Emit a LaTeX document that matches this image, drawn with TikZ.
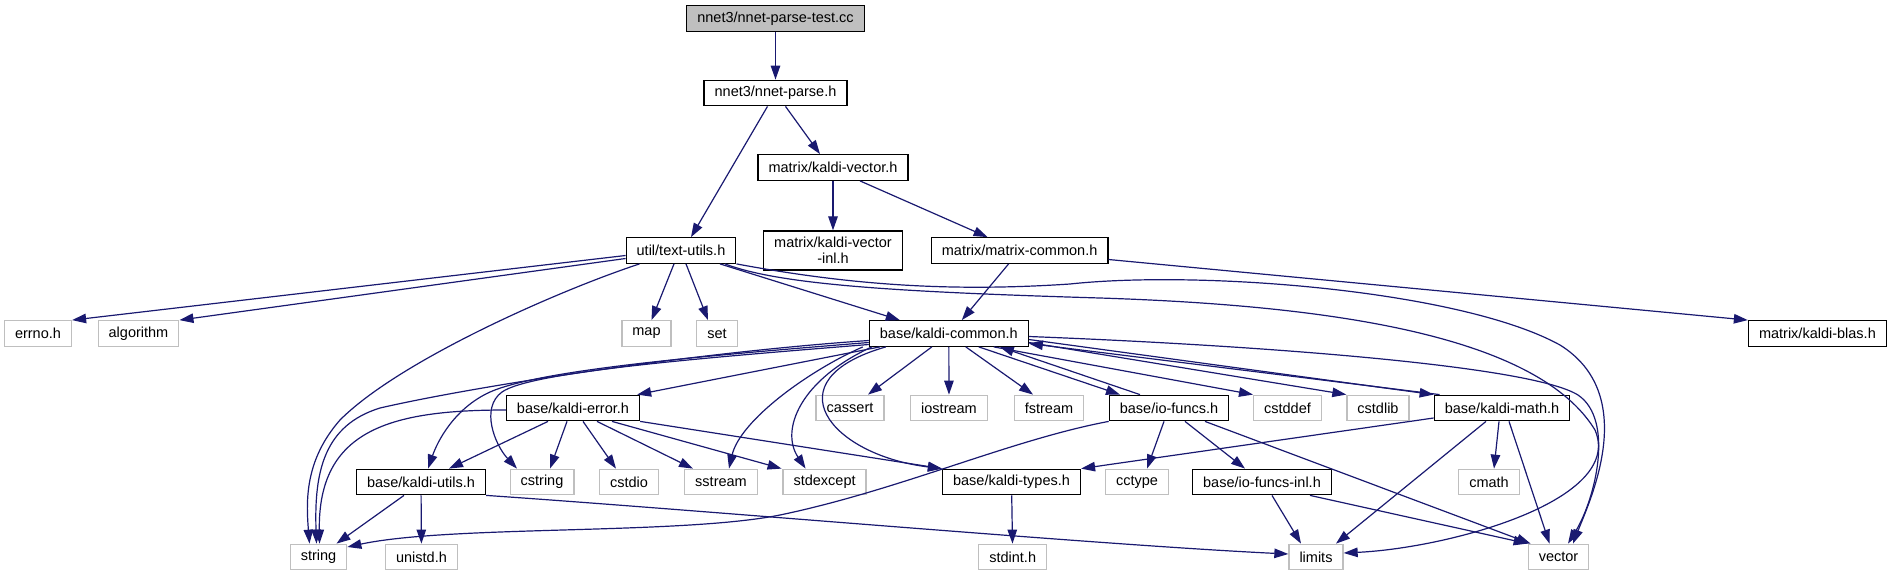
\documentclass[tikz,border=0pt]{standalone}
\usepackage{fontspec}
\setmainfont{Liberation Sans}
\usetikzlibrary{arrows.meta}
\definecolor{edgeblue}{HTML}{191970}
\definecolor{boxgray}{HTML}{BFBFBF}

\begin{document}
\begin{tikzpicture}[x=1pt, y=-1pt, >={Triangle[length=14pt,width=9.5pt]},
  file/.style={draw=black, line width=1.3pt, fill=white, minimum height=25.5pt,
    inner xsep=10.5pt, inner ysep=2pt, font=\fontsize{14.5}{16}\selectfont},
  sysfile/.style={file, draw=boxgray},
  mainfile/.style={file, fill=boxgray},
  dep/.style={->, draw=edgeblue, line width=1.2pt}]
  \useasboundingbox (0,0) rectangle (1892,576);

  % Files
  \node[mainfile] (test) at (775.5,18.5) {nnet3/nnet-parse-test.cc};
  \node[file] (parse) at (775.5,93) {nnet3/nnet-parse.h};
  \node[file] (kvec) at (833,167.5) {matrix/kaldi-vector.h};
  \node[file] (textu) at (681,250.5) {util/text-utils.h};
  \node[file, align=center, minimum height=39pt] (kvecinl) at (833,250.5) {matrix/kaldi-vector\\-inl.h};
  \node[file] (matc) at (1019.6,250.5) {matrix/matrix-common.h};

  \node[sysfile] (errno) at (38,333.5) {errno.h};
  \node[sysfile] (algo) at (138.5,333.5) {algorithm};
  \node[sysfile] (map) at (646.5,333.5) {map};
  \node[sysfile] (set) at (717,333.5) {set};
  \node[file] (kcom) at (948.8,333.5) {base/kaldi-common.h};
  \node[file] (blas) at (1817.4,333.5) {matrix/kaldi-blas.h};

  \node[file] (kerr) at (573,408) {base/kaldi-error.h};
  \node[sysfile] (cassert) at (850,408) {cassert};
  \node[sysfile] (iostream) at (949,408) {iostream};
  \node[sysfile] (fstream) at (1049,408) {fstream};
  \node[file] (iof) at (1169,408) {base/io-funcs.h};
  \node[sysfile] (cstddef) at (1287.5,408) {cstddef};
  \node[sysfile] (cstdlib) at (1378,408) {cstdlib};
  \node[file] (kmath) at (1502,408) {base/kaldi-math.h};

  \node[file] (kutil) at (421,482) {base/kaldi-utils.h};
  \node[sysfile] (cstring) at (542,482) {cstring};
  \node[sysfile] (cstdio) at (629,482) {cstdio};
  \node[sysfile] (sstream) at (721,482) {sstream};
  \node[sysfile] (stdexcept) at (824.6,482) {stdexcept};
  \node[file] (ktypes) at (1011.5,482) {base/kaldi-types.h};
  \node[sysfile] (cctype) at (1137,482) {cctype};
  \node[file] (iofinl) at (1262,482) {base/io-funcs-inl.h};
  \node[sysfile] (cmath) at (1489,482) {cmath};

  \node[sysfile] (string) at (318.5,557) {string};
  \node[sysfile] (unistd) at (421.5,557) {unistd.h};
  \node[sysfile] (stdint) at (1012.7,557) {stdint.h};
  \node[sysfile] (limits) at (1316,557) {limits};
  \node[sysfile] (vector) at (1558.5,557) {vector};

  % Top of the graph
  \draw[dep] (test) -- (parse);
  \draw[dep] ([xshift=-8pt]parse.south) -- ([xshift=10pt]textu.north);
  \draw[dep] ([xshift=10pt]parse.south) -- ([xshift=-13pt]kvec.north);
  \draw[dep] (kvec) -- (kvecinl);
  \draw[dep] ([xshift=27pt]kvec.south) -- ([xshift=-32pt]matc.north);

  % Includes of util/text-utils.h
  \draw[dep] ([yshift=-5pt]textu.west) -- (errno.north east);
  \draw[dep] ([yshift=-8pt]textu.west) -- (algo.north east);
  \draw[dep] ([xshift=-7pt]textu.south) -- ([xshift=5pt]map.north);
  \draw[dep] ([xshift=5pt]textu.south) -- ([xshift=-9pt]set.north);
  \draw[dep] ([xshift=39pt]textu.south) -- ([xshift=-49pt]kcom.north);
  \draw[dep] ([xshift=14pt]textu.south west) .. controls (560,290) and (400,360) .. (340,420)
    .. controls (305,460) and (306,500) .. ([xshift=-9pt]string.north);
  \draw[dep] (textu.south east) .. controls (850,285) and (950,292) .. (1070,284)
    .. controls (1200,270) and (1460,290) .. (1560,345)
    .. controls (1640,395) and (1590,500) .. ([xshift=14.5pt]vector.north);
  \draw[dep] ([xshift=44pt]textu.south) .. controls (780,285) and (900,292) .. (1100,298)
    .. controls (1350,306) and (1540,340) .. (1595,430)
    .. controls (1625,500) and (1450,548) .. ([yshift=4pt]limits.east);

  % Includes of matrix/matrix-common.h
  \draw[dep] ([xshift=-11pt]matc.south) -- ([xshift=13pt]kcom.north);
  \draw[dep] ([yshift=-9pt]matc.east) -- (blas.north west);

  % Includes of base/kaldi-common.h
  \draw[dep] ([xshift=-69pt]kcom.south) -- ([xshift=-3pt]kerr.north east);
  \draw[dep] ([yshift=-7pt]kcom.west) .. controls (700,352) and (480,385) .. (380,408)
    .. controls (325,425) and (314,470) .. ([xshift=-2pt]string.north);
  \draw[dep] ([yshift=-9pt]kcom.west) .. controls (700,356) and (540,370) .. (490,392)
    .. controls (455,408) and (438,440) .. ([xshift=7pt]kutil.north);
  \draw[dep] ([yshift=-11pt]kcom.west) .. controls (700,358) and (530,372) .. (502,392)
    .. controls (480,408) and (495,445) .. ([xshift=-25pt]cstring.north);
  \draw[dep] ([xshift=-86pt]kcom.south) .. controls (810,370) and (740,420) .. ([xshift=8pt]sstream.north);
  \draw[dep] ([xshift=-77pt]kcom.south) .. controls (800,380) and (780,430) .. ([xshift=-19pt]stdexcept.north);
  \draw[dep] ([xshift=-63pt]kcom.south) .. controls (770,380) and (830,455) .. (ktypes.north west);
  \draw[dep] ([xshift=-17pt]kcom.south) -- ([xshift=18pt]cassert.north);
  \draw[dep] (kcom) -- (iostream);
  \draw[dep] ([xshift=17pt]kcom.south) -- ([xshift=-16pt]fstream.north);
  \draw[dep] ([xshift=30pt]kcom.south) -- ([xshift=-49pt]iof.north);
  \draw[dep] ([xshift=45pt]kcom.south) -- (cstddef.north west);
  \draw[dep] ([yshift=-9pt]kcom.east) -- (cstdlib.north west);
  \draw[dep] ([yshift=-6pt]kcom.east) -- (kmath.north west);
  \draw[dep] ([yshift=-3pt]kcom.east) .. controls (1250,345) and (1530,365) .. (1578,395)
    .. controls (1615,420) and (1595,500) .. ([xshift=9.5pt]vector.north);

  % Includes back to base/kaldi-common.h
  \draw[dep] ([xshift=-29pt]iof.north) -- ([xshift=51pt]kcom.south);
  \draw[dep] ([xshift=6pt]kmath.north west) -- ([yshift=-10pt]kcom.east);

  % Includes of base/kaldi-error.h
  \draw[dep] ([xshift=-25pt]kerr.south) -- ([xshift=28pt]kutil.north);
  \draw[dep] ([xshift=-6pt]kerr.south) -- ([xshift=8pt]cstring.north);
  \draw[dep] ([xshift=10pt]kerr.south) -- ([xshift=-13pt]cstdio.north);
  \draw[dep] ([xshift=24pt]kerr.south) -- ([xshift=-28pt]sstream.north);
  \draw[dep] ([xshift=39pt]kerr.south) -- ([xshift=-43pt]stdexcept.north);
  \draw[dep] (kerr.south east) -- (ktypes.north west);
  \draw[dep] ([yshift=-2pt]kerr.west) .. controls (390,410) and (318,430) .. ([xshift=1pt]string.north);

  % Includes of base/kaldi-utils.h
  \draw[dep] ([xshift=-17pt]kutil.south) -- ([xshift=18pt]string.north);
  \draw[dep] (kutil) -- (unistd);
  \draw[dep] (kutil.south east) .. controls (700,510) and (1100,545) .. ([yshift=3pt]limits.west);

  % Includes of base/kaldi-types.h
  \draw[dep] (ktypes) -- (stdint);

  % Includes of base/io-funcs.h
  \draw[dep] (iof.south west) .. controls (1010,440) and (900,490) .. (780,515)
    .. controls (680,535) and (450,525) .. ([yshift=10pt]string.east);
  \draw[dep] ([xshift=-5pt]iof.south) -- ([xshift=10pt]cctype.north);
  \draw[dep] ([xshift=16pt]iof.south) -- ([xshift=-17pt]iofinl.north);
  \draw[dep] ([xshift=36pt]iof.south) -- ([xshift=3pt]vector.north west);

  % Includes of base/io-funcs-inl.h
  \draw[dep] ([xshift=10pt]iofinl.south) -- ([xshift=-15pt]limits.north);
  \draw[dep] ([xshift=48pt]iofinl.south) -- (vector.north west);

  % Includes of base/kaldi-math.h
  \draw[dep] ([yshift=-10pt]kmath.west) -- (ktypes.north east);
  \draw[dep] ([xshift=-16pt]kmath.south) -- ([xshift=20pt]limits.north);
  \draw[dep] ([xshift=-3pt]kmath.south) -- ([xshift=5pt]cmath.north);
  \draw[dep] ([xshift=7pt]kmath.south) -- ([xshift=-9pt]vector.north);
\end{tikzpicture}
\end{document}
